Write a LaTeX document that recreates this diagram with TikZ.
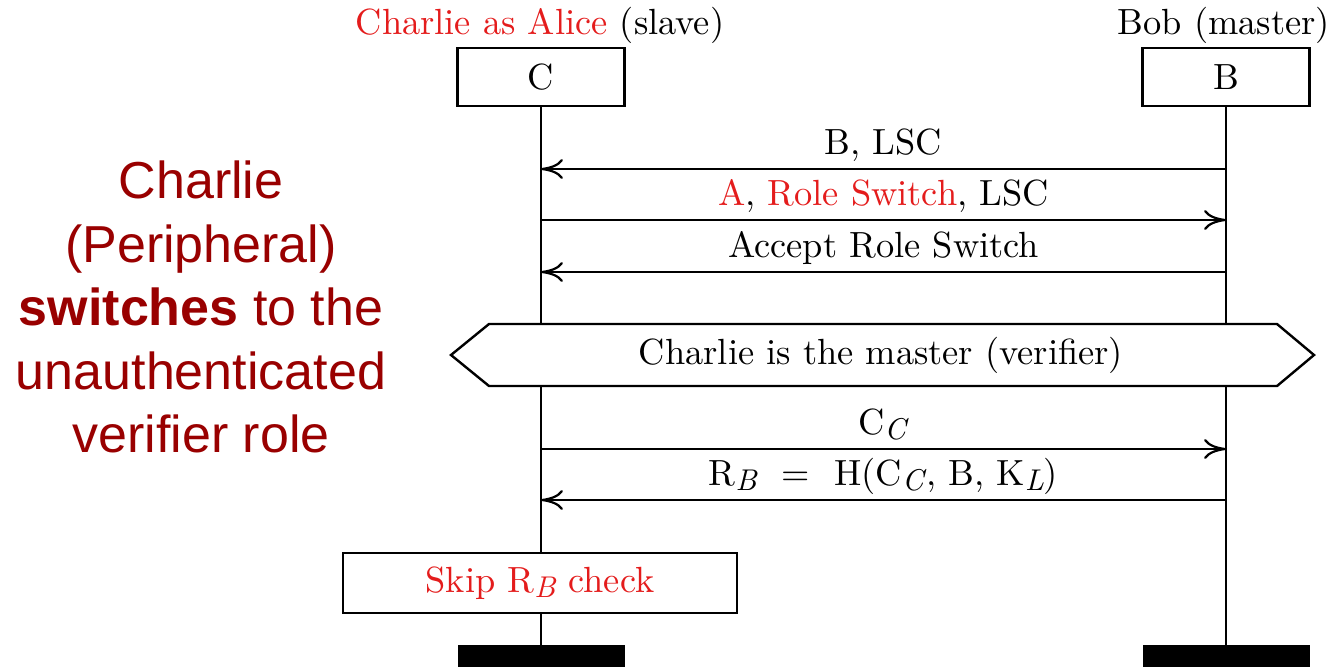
\documentclass[tikz,border=0pt]{standalone}
\usepackage{fontspec}
\setmainfont{lmroman10-regular.otf}[BoldFont=lmroman10-bold.otf,
  ItalicFont=lmroman10-italic.otf]
\newfontfamily\notefont{Liberation Sans}
\usetikzlibrary{arrows.meta}
\definecolor{alert}{RGB}{228,28,28}
\definecolor{note}{RGB}{153,0,0}
% italic subscript set at a fixed size, lowered below the baseline
\newcommand\subsc[1]{\raisebox{-2.6pt}{\fontsize{15}{16}\selectfont\itshape #1\/}}
\begin{document}
\begin{tikzpicture}[x=0.5pt,y=-0.5pt,
  every node/.style={font=\fontsize{18.2}{22}\selectfont},
  party/.style={draw, line width=1.2pt, fill=white, minimum width=83.5pt,
    minimum height=29pt, inner sep=0pt},
  endbar/.style={fill=black, minimum width=83.5pt, minimum height=15pt, inner sep=0pt},
  life/.style={line width=1.1pt},
  msg/.style={line width=1.1pt, -{Computer Modern Rightarrow[length=11pt,width=10pt]}},
  lbl/.style={anchor=base, yshift=7.5pt, inner sep=0pt},
  frame/.style={draw, line width=1.2pt, fill=white},
]
\useasboundingbox (0,0) rectangle (1331,666);

% participants
\node[anchor=base] (Chead) at (540,34) {\textcolor{alert}{Charlie as Alice} (slave)};
\node[anchor=base] (Bhead) at (1224,34) {Bob (master)};
\node[party] (C) at (541,77) {C};
\node[party] (B) at (1226,77) {B};
\node[endbar] (Cend) at (541,660) {};
\node[endbar] (Bend) at (1226,660) {};

% lifelines
\draw[life] (C.south) -- (Cend.north);
\draw[life] (B.south) -- (Bend.north);

% message anchor points on the lifelines
\foreach \n/\y in {1/169, 2/220, 3/272, 4/449, 5/500} {
  \coordinate (c\n) at (541,\y);
  \coordinate (b\n) at (1226,\y);
}

% messages
\draw[msg] (b1) -- node[lbl] {B, LSC} (c1);
\draw[msg] (c2) -- node[lbl] {\textcolor{alert}{A}, \textcolor{alert}{Role Switch}, LSC} (b2);
\draw[msg] (b3) -- node[lbl] {Accept Role Switch} (c3);
\draw[msg] (c4) -- node[lbl] {C\subsc{C}} (b4);
\draw[msg] (b5) -- node[lbl] {R\subsc{B} \ = \ H(C\subsc{C}, B, K\subsc{L})} (c5);

% phase banner
\draw[frame] (451,355) -- (489,324) -- (1277,324) -- (1314,355)
  -- (1277,386) -- (489,386) -- cycle;
\node (phase) at (881,355) {Charlie is the master (verifier)};

% local action
\node[frame, minimum width=197pt, minimum height=30pt, inner sep=0pt, text=alert]
  (skip) at (540,583) {Skip R\subsc{B} check};

% side note
\node[font=\notefont\fontsize{26}{31.75}\selectfont, text=note, align=center]
  (note) at (201,307) {Charlie\\(Peripheral)\\\textbf{switches} to the\\unauthenticated\\verifier role};
\end{tikzpicture}
\end{document}
